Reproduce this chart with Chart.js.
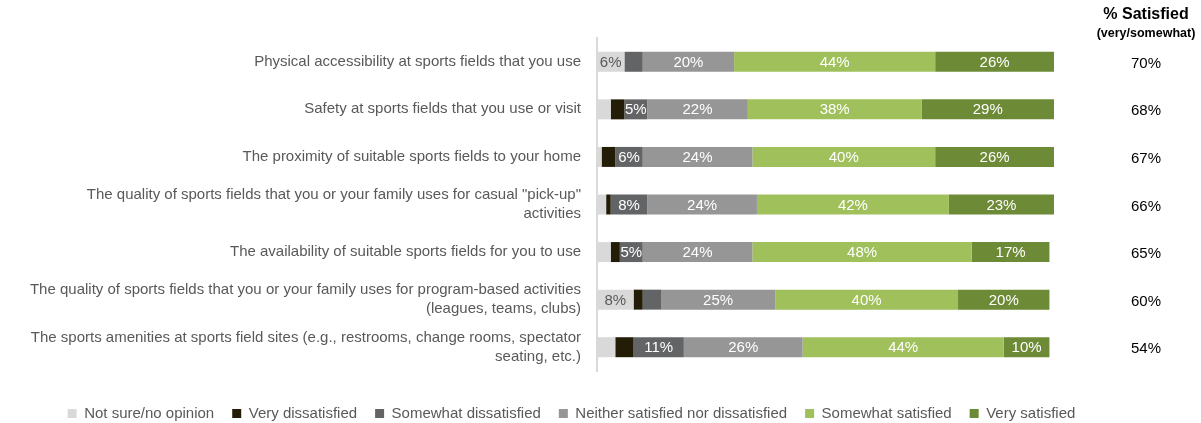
<!DOCTYPE html>
<html>
<head>
<meta charset="utf-8">
<script src="https://cdn.jsdelivr.net/npm/chart.js@4/dist/chart.umd.min.js"></script>
<style>
  html, body { margin: 0; padding: 0; background: #fff; }
  #wrap { width: 1201px; height: 423px; }
</style>
</head>
<body>
<div id="wrap"><canvas id="myChart" width="1201" height="423"></canvas></div>
<script>
const FONT = "'Liberation Sans', Arial, sans-serif";

// categories (multi-line where the original wraps)
const categories = [
  'Physical accessibility at sports fields that you use',
  'Safety at sports fields that you use or visit',
  'The proximity of suitable sports fields to your home',
  ['The quality of sports fields that you or your family uses for casual "pick-up"', 'activities'],
  'The availability of suitable sports fields for you to use',
  ['The quality of sports fields that you or your family uses for program-based activities', '(leagues, teams, clubs)'],
  ['The sports amenities at sports field sites (e.g., restrooms, change rooms, spectator', 'seating, etc.)']
];

// series values (%)
const notSure        = [6, 3, 1, 2, 3, 8, 4];
const veryDissat     = [0, 3, 3, 1, 2, 2, 4];
const somewhatDissat = [4, 5, 6, 8, 5, 4, 11];
const neither        = [20, 22, 24, 24, 24, 25, 26];
const somewhatSat    = [44, 38, 40, 42, 48, 40, 44];
const verySat        = [26, 29, 26, 23, 17, 20, 10];

const satisfiedTotal = ['70%', '68%', '67%', '66%', '65%', '60%', '54%'];

const seriesNames = ['Not sure/no opinion', 'Very dissatisfied', 'Somewhat dissatisfied',
  'Neither satisfied nor dissatisfied', 'Somewhat satisfied', 'Very satisfied'];
const seriesColors = ['#d9d9d9', '#231c07', '#636466', '#969696', '#a0c05c', '#6d8a36'];
const labelColors = ['#595959', '#ffffff', '#ffffff', '#ffffff', '#ffffff', '#ffffff'];

const allSeries = [notSure, veryDissat, somewhatDissat, neither, somewhatSat, verySat];

// draws the % labels inside the segments
const segmentLabels = {
  id: 'segmentLabels',
  afterDatasetsDraw(chart) {
    const ctx = chart.ctx;
    ctx.save();
    ctx.font = '15px ' + FONT;
    ctx.textAlign = 'center';
    ctx.textBaseline = 'middle';
    chart.data.datasets.forEach((ds, i) => {
      const meta = chart.getDatasetMeta(i);
      meta.data.forEach((bar, j) => {
        const v = ds.data[j];
        if (v < 5) return;
        ctx.fillStyle = labelColors[i];
        ctx.fillText(v + '%', (bar.x + bar.base) / 2, bar.y + 1);
      });
    });
    ctx.restore();
  }
};

// "% Satisfied" column on the right
const satisfiedColumn = {
  id: 'satisfiedColumn',
  afterDraw(chart) {
    const ctx = chart.ctx;
    const yScale = chart.scales.y;
    const cx = 1146;
    ctx.save();
    ctx.textAlign = 'center';
    ctx.textBaseline = 'middle';
    ctx.fillStyle = '#000';
    ctx.font = 'bold 16px ' + FONT;
    ctx.fillText('% Satisfied', cx, 15);
    ctx.font = 'bold 12.5px ' + FONT;
    ctx.fillText('(very/somewhat)', cx, 34);
    ctx.font = '15px ' + FONT;
    satisfiedTotal.forEach((t, i) => {
      ctx.fillText(t, cx, yScale.getPixelForValue(i) + 2);
    });
    ctx.restore();
  }
};

let ctx = document.getElementById('myChart').getContext('2d');
let myChart = new Chart(ctx, {
  type: 'bar',
  data: {
    labels: categories,
    datasets: allSeries.map((d, i) => ({
      label: seriesNames[i],
      data: d,
      backgroundColor: seriesColors[i],
      borderWidth: 0,
      barPercentage: 0.42,
      categoryPercentage: 1
    }))
  },
  options: {
    indexAxis: 'y',
    responsive: false,
    animation: false,
    layout: { padding: { top: 38, right: 58, left: 0, bottom: -8 } },
    scales: {
      x: {
        stacked: true,
        min: 0,
        max: 100,
        grid: { display: false },
        border: { display: false },
        ticks: { display: false },
        afterFit(scale) { scale.height = 17; }
      },
      y: {
        stacked: true,
        grid: { display: false },
        border: { display: true, color: '#d9d9d9', width: 2 },
        ticks: {
          color: '#595959',
          font: { family: FONT, size: 15, lineHeight: 1.27 },
          padding: 8
        },
        afterFit(scale) { scale.width = 597; }
      },
      y2: {
        type: 'category',
        position: 'right',
        labels: categories,
        grid: { display: false },
        border: { display: false },
        ticks: { display: false },
        afterFit(scale) { scale.width = 89; }
      }
    },
    plugins: {
      legend: {
        position: 'bottom',
        labels: {
          color: '#595959',
          font: { family: FONT, size: 15 },
          boxWidth: 9,
          boxHeight: 9,
          padding: 18
        }
      },
      tooltip: { enabled: false }
    }
  },
  plugins: [segmentLabels, satisfiedColumn]
});
</script>
</body>
</html>
